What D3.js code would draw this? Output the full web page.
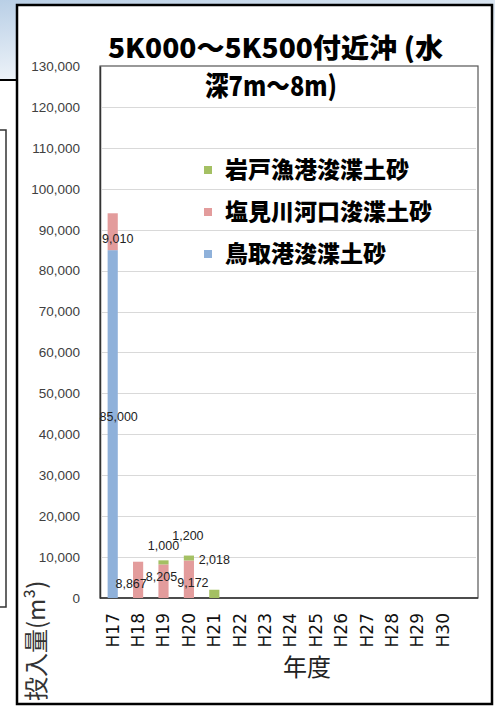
<!DOCTYPE html>
<html lang="ja">
    <head>
        <meta charset="utf-8">
        <title>5K000～5K500付近沖 投入量</title>
        <script type="text/javascript" src="https://cdn.jsdelivr.net/npm/d3@7"></script>
        <style>
            body {margin: 0; background: white;}
            svg {display: block;}
            .ytick text {font-family: "Liberation Sans", sans-serif; font-size: 13.5px; fill: #404040;}
            .xtick text {font-family: "DejaVu Sans", sans-serif; font-size: 17px; fill: #111;}
            .dlabel {font-family: "Liberation Sans", sans-serif; font-size: 12.5px; fill: #222;}
            .title {font-family: "Noto Sans CJK JP", sans-serif; font-weight: 900; font-size: 27px; fill: #000;}
            .legend text {font-family: "Noto Sans CJK JP", sans-serif; font-weight: 900; font-size: 23px; fill: #000;}
        </style>
    </head>
    <body>
        <script type="text/javascript">

// data
var years = ["H17", "H18", "H19", "H20", "H21", "H22", "H23", "H24", "H25", "H26", "H27", "H28", "H29", "H30"];
var tottori = [85000, 0, 0, 0, 0, 0, 0, 0, 0, 0, 0, 0, 0, 0];      // 鳥取港浚渫土砂
var shiomi  = [9010, 8867, 8205, 9172, 0, 0, 0, 0, 0, 0, 0, 0, 0, 0];  // 塩見川河口浚渫土砂
var iwado   = [0, 0, 1000, 1200, 2018, 0, 0, 0, 0, 0, 0, 0, 0, 0];   // 岩戸漁港浚渫土砂
var seriesNames = ["鳥取港浚渫土砂", "塩見川河口浚渫土砂", "岩戸漁港浚渫土砂"];
var yTicks = [0, 10000, 20000, 30000, 40000, 50000, 60000, 70000, 80000, 90000, 100000, 110000, 120000, 130000];

var colors = ["#8fb1da", "#e39c9c", "#a4c063"];

var w = 495;
var h = 706;

var svg = d3.select("body")
    .append("svg")
    .attr("width", w)
    .attr("height", h);

// background bits outside the frame
var grad = svg.append("defs").append("linearGradient")
    .attr("id", "bg")
    .attr("x1", 0).attr("y1", 0).attr("x2", 0.6).attr("y2", 1);
grad.append("stop").attr("offset", "0%").attr("stop-color", "#b9cfe6");
grad.append("stop").attr("offset", "100%").attr("stop-color", "#ffffff");

svg.append("rect")
    .attr("x", 0).attr("y", 0)
    .attr("width", w).attr("height", 80)
    .attr("fill", "url(#bg)");

svg.append("line")
    .attr("x1", 0).attr("x2", 17).attr("y1", 80).attr("y2", 80)
    .attr("stroke", "#000").attr("stroke-width", 2);

svg.append("path")
    .attr("d", "M0,130H6V607H0")
    .attr("fill", "none")
    .attr("stroke", "#333").attr("stroke-width", 1.5);

// main frame
svg.append("rect")
    .attr("x", 17).attr("y", 5)
    .attr("width", 475).attr("height", 699)
    .attr("fill", "white")
    .attr("stroke", "#000")
    .attr("stroke-width", 2.5);

// scales
var plot = {left: 100, right: 478, top: 66, bottom: 598};

var xScale = d3.scaleBand()
    .domain(years)
    .range([plot.left, plot.left + 14 * 25.4])
    .paddingInner(0.6)
    .paddingOuter(0.3);

var yScale = d3.scaleLinear()
    .domain([0, 130000])
    .range([plot.bottom, plot.top]);

// gridlines
svg.append("g")
    .selectAll("line")
    .data(yTicks.slice(1, -1))
    .enter()
    .append("line")
    .attr("x1", plot.left + 2)
    .attr("x2", plot.right - 2)
    .attr("y1", function(d) {return Math.round(yScale(d)) + 0.5;})
    .attr("y2", function(d) {return Math.round(yScale(d)) + 0.5;})
    .attr("stroke", "#d9d9d9")
    .attr("stroke-width", 1);

// plot border
svg.append("rect")
    .attr("x", plot.left).attr("y", plot.top)
    .attr("width", plot.right - plot.left)
    .attr("height", plot.bottom - plot.top)
    .attr("fill", "none")
    .attr("stroke", "#555")
    .attr("stroke-width", 1.2);

// y axis
var yAxis = d3.axisLeft(yScale)
    .tickValues(yTicks)
    .tickFormat(d3.format(","))
    .tickSize(0)
    .tickPadding(20);

svg.append("g")
    .attr("class", "ytick")
    .attr("transform", "translate(" + plot.left + ",0)")
    .call(yAxis)
    .call(function(g) {g.select(".domain").attr("stroke", "#333").attr("stroke-width", 1.5);});

// x axis
var xAxis = d3.axisBottom(xScale).tickSize(0);

svg.append("g")
    .attr("class", "xtick")
    .attr("transform", "translate(0," + plot.bottom + ")")
    .call(xAxis)
    .call(function(g) {
        g.select(".domain").remove();
        g.selectAll("text")
            .attr("transform", "rotate(-90)")
            .attr("text-anchor", "end")
            .attr("x", -15)
            .attr("y", 0)
            .attr("dy", "0.35em");
    });

svg.append("line")
    .attr("x1", plot.left).attr("x2", plot.right)
    .attr("y1", plot.bottom).attr("y2", plot.bottom)
    .attr("stroke", "#333").attr("stroke-width", 1.5);

// stacked bars
var rows = years.map(function(y, i) {
    return {year: y, s0: tottori[i], s1: shiomi[i], s2: iwado[i]};
});
var stack = d3.stack().keys(["s0", "s1", "s2"]);
var stacked = stack(rows);

svg.append("g")
    .selectAll("g")
    .data(stacked)
    .enter()
    .append("g")
    .attr("fill", function(d, i) {return colors[i];})
    .selectAll("rect")
    .data(function(d) {return d;})
    .enter()
    .append("rect")
    .attr("x", function(d) {return xScale(d.data.year);})
    .attr("width", xScale.bandwidth())
    .attr("y", function(d) {return yScale(d[1]);})
    .attr("height", function(d) {return yScale(d[0]) - yScale(d[1]);});

// data labels (nudged like the original, which were dragged by hand)
var nudges = {
    "s0-H17": [6, -7],
    "s1-H17": [5, 7],
    "s1-H18": [-7, 4],
    "s1-H19": [-2, -4],
    "s2-H19": [0, -16],
    "s1-H20": [4, 4],
    "s2-H20": [-1, -22],
    "s2-H21": [0, -34]
};

var labels = [];
stacked.forEach(function(layer) {
    layer.forEach(function(d) {
        if (d[1] - d[0] > 0) {
            labels.push({key: layer.key, year: d.data.year, v: d[1] - d[0], mid: (d[0] + d[1]) / 2});
        }
    });
});

svg.append("g")
    .selectAll("text")
    .data(labels)
    .enter()
    .append("text")
    .attr("class", "dlabel")
    .attr("text-anchor", "middle")
    .attr("dominant-baseline", "central")
    .attr("x", function(d) {
        var n = nudges[d.key + "-" + d.year] || [0, 0];
        return xScale(d.year) + xScale.bandwidth() / 2 + n[0];
    })
    .attr("y", function(d) {
        var n = nudges[d.key + "-" + d.year] || [0, 0];
        return yScale(d.mid) + n[1];
    })
    .text(function(d) {return d3.format(",")(d.v);});

// title
svg.append("text")
    .attr("class", "title")
    .attr("x", 108).attr("y", 58)
    .attr("textLength", 335)
    .attr("lengthAdjust", "spacingAndGlyphs")
    .text("5K000～5K500付近沖 (水");

svg.append("text")
    .attr("class", "title")
    .attr("x", 205).attr("y", 96)
    .attr("textLength", 132)
    .attr("lengthAdjust", "spacingAndGlyphs")
    .text("深7m～8m)");

// legend, reversed like excel
var legend = svg.append("g").attr("class", "legend");
var legendItems = [2, 1, 0];

var li = legend.selectAll("g")
    .data(legendItems)
    .enter()
    .append("g")
    .attr("transform", function(d, i) {return "translate(204," + (170 + i * 42) + ")";});

li.append("rect")
    .attr("x", 0).attr("y", -4)
    .attr("width", 8).attr("height", 8)
    .attr("fill", function(d) {return colors[d];});

li.append("text")
    .attr("x", 21)
    .attr("y", 0)
    .attr("dy", "0.36em")
    .text(function(d) {return seriesNames[d];});

// axis titles
svg.append("text")
    .attr("transform", "translate(45,701) rotate(-90)")
    .attr("text-anchor", "start")
    .style("font-family", "'Noto Sans CJK JP', sans-serif")
    .style("font-size", "24px")
    .style("fill", "#333")
    .text("投入量(m³)");

svg.append("text")
    .attr("x", 307).attr("y", 676)
    .attr("text-anchor", "middle")
    .style("font-family", "'Noto Sans CJK JP', sans-serif")
    .style("font-size", "24px")
    .style("fill", "#222")
    .text("年度");

        </script>
    </body>
</html>
